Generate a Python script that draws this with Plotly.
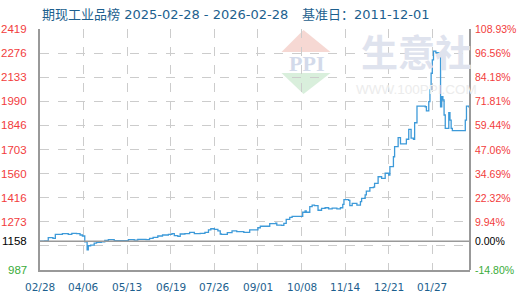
import plotly.graph_objects as go

# ---- data ----
dates = ["2025-02-28","2025-03-04","2025-03-07","2025-03-11","2025-03-13","2025-03-19","2025-03-24","2025-03-27",
         "2025-03-31","2025-04-03","2025-04-05","2025-04-07","2025-04-09","2025-04-10","2025-04-12","2025-04-15",
         "2025-04-17","2025-04-21","2025-04-24","2025-04-27","2025-05-02","2025-05-11","2025-05-14","2025-05-19",
         "2025-05-22","2025-05-29","2025-06-01","2025-06-04","2025-06-08","2025-06-12","2025-06-17","2025-06-20",
         "2025-06-22","2025-06-25","2025-06-27","2025-07-01","2025-07-05","2025-07-09","2025-07-14","2025-07-18",
         "2025-07-21","2025-07-23","2025-07-26","2025-07-29","2025-07-31","2025-08-01","2025-08-06","2025-08-10",
         "2025-08-14","2025-08-20","2025-08-25","2025-08-30","2025-09-01","2025-09-03","2025-09-10","2025-09-11",
         "2025-09-16","2025-09-17","2025-09-21","2025-09-23","2025-09-25","2025-09-28","2025-09-30","2025-10-07",
         "2025-10-09","2025-10-11","2025-10-12","2025-10-15","2025-10-17","2025-10-19","2025-10-22","2025-10-25",
         "2025-10-28","2025-10-31","2025-11-03","2025-11-07","2025-11-10","2025-11-12","2025-11-13","2025-11-17",
         "2025-11-18","2025-11-20","2025-11-24","2025-11-27","2025-11-28","2025-12-01","2025-12-02","2025-12-05",
         "2025-12-08","2025-12-09","2025-12-12","2025-12-15","2025-12-18","2025-12-21","2025-12-22","2025-12-25",
         "2025-12-26","2025-12-29","2025-12-31","2026-01-04","2026-01-05","2026-01-07","2026-01-09","2026-01-11",
         "2026-01-12","2026-01-14","2026-01-21","2026-01-22","2026-01-24","2026-01-25","2026-01-26","2026-01-27",
         "2026-01-28","2026-01-30","2026-02-02","2026-02-03","2026-02-04","2026-02-05","2026-02-06","2026-02-07",
         "2026-02-08","2026-02-10","2026-02-11","2026-02-12","2026-02-13","2026-02-22","2026-02-24","2026-02-25",
         "2026-02-27","2026-02-28"]
values = [1158,1160,1179,1175,1199,1203,1199,1205,
          1203,1195,1189,1155,1106,1131,1135,1147,
          1151,1155,1163,1167,1161,1161,1167,1165,
          1169,1167,1175,1181,1189,1195,1199,1203,
          1191,1187,1201,1203,1211,1203,1205,1211,
          1225,1232,1228,1219,1201,1199,1209,1219,
          1215,1211,1225,1225,1238,1247,1247,1262,
          1266,1254,1252,1264,1288,1300,1306,1306,
          1330,1338,1330,1363,1373,1369,1342,1353,
          1357,1350,1355,1350,1357,1377,1405,1401,
          1369,1383,1373,1393,1413,1433,1456,1476,
          1480,1502,1541,1532,1562,1551,1601,1660,
          1720,1773,1736,1736,1764,1823,1770,1764,
          1862,1961,1957,1933,1987,2057,2156,2235,
          2288,2278,2278,1957,2017,1997,1908,1829,
          1829,1922,1878,1829,1815,1815,1878,1961,
          1957,1953]

base_value = 1158
y_min, y_max = 987, 2419
y_grid = [987, 1130.2, 1273.4, 1416.6, 1559.8, 1703, 1846.2, 1989.4, 2132.6, 2275.8, 2419]
left_label_vals = [2419, 2276, 2133, 1990, 1846, 1703, 1560, 1416, 1273, 1158, 987]
right_labels = ["108.93%", "96.56%", "84.18%", "71.81%", "59.44%", "47.06%", "34.69%",
                "22.32%", "9.94%", "0.00%", "-14.80%"]
x_tick_dates = ["2025-02-28","2025-04-06","2025-05-13","2025-06-19","2025-07-26",
                "2025-09-01","2025-10-08","2025-11-14","2025-12-21","2026-01-27"]
x_tick_text = ["02/28","04/06","05/13","06/19","07/26","09/01","10/08","11/14","12/21","01/27"]
x_range = ["2025-02-28", "2026-02-28"]
title_left = "期现工业品榜 2025-02-28 - 2026-02-28"
title_right = "基准日：2011-12-01"

# ---- styles ----
BLUE_TXT = "#1d5f8e"
RED = "#f23c3c"
GREEN = "#3aac3a"
LINE = "#3d9ad9"
GRID = "#cccccc"
AXIS = "#999999"
FONT = "DejaVu Sans, Noto Sans CJK SC, sans-serif"

fig = go.Figure()
fig.add_trace(go.Scatter(x=dates, y=values, mode="lines", line=dict(color=LINE, width=1.3, shape="hv"),
                         hoverinfo="x+y", showlegend=False))

fig.update_layout(
    width=520, height=300, autosize=False,
    margin=dict(l=40, r=50, t=29, b=30),
    paper_bgcolor="white", plot_bgcolor="white",
    font=dict(family=FONT),
    xaxis=dict(type="date", range=x_range, tickvals=x_tick_dates, showticklabels=False,
               showgrid=True, gridcolor=GRID, griddash="dash", gridwidth=1,
               showline=True, linecolor=AXIS, linewidth=2, zeroline=False, fixedrange=True),
    yaxis=dict(range=[y_min, y_max], tickvals=y_grid, showticklabels=False,
               showgrid=True, gridcolor=GRID, griddash="dash", gridwidth=1,
               showline=True, linecolor=AXIS, linewidth=2, mirror=False, zeroline=False, fixedrange=True),
)

def px(xp):
    return (xp - 40) / 430
def py(yp):
    return (270 - yp) / 241

# right border and baseline
fig.add_shape(type="line", xref="paper", yref="paper", x0=1, x1=1, y0=0, y1=1,
              line=dict(color=AXIS, width=2))
fig.add_shape(type="line", xref="paper", yref="y", x0=0, x1=1, y0=base_value, y1=base_value,
              line=dict(color=AXIS, width=1.5))

# x tick labels
for d, t in zip(x_tick_dates, x_tick_text):
    fig.add_annotation(x=d, xref="x", y=py(287), yref="paper", text=t, showarrow=False,
                       xanchor="center", yanchor="middle",
                       font=dict(family="DejaVu Sans", size=10.5, color=BLUE_TXT))

# left / right labels
n = len(left_label_vals)
for i, (v, rt) in enumerate(zip(left_label_vals, right_labels)):
    if i == n - 2:
        col = "#000000"
    elif i == n - 1:
        col = GREEN
    else:
        col = RED
    fig.add_annotation(x=0, xref="paper", y=v, yref="y", text=str(v), showarrow=False,
                       xanchor="right", yanchor="middle", xshift=-11,
                       font=dict(family="Liberation Sans", size=11.5, color=col))
    fig.add_annotation(x=1, xref="paper", y=v, yref="y", text=rt, showarrow=False,
                       xanchor="left", yanchor="middle", xshift=3,
                       font=dict(family="Liberation Sans", size=10.5, color=col))

# title
fig.add_annotation(x=0, xref="paper", y=py(15), yref="paper", text=title_left, showarrow=False,
                   xanchor="left", yanchor="middle", font=dict(family=FONT, size=13, color=BLUE_TXT))
fig.add_annotation(x=px(300), xref="paper", y=py(15), yref="paper", text=title_right,
                   showarrow=False, xanchor="left", yanchor="middle",
                   font=dict(family=FONT, size=13, color=BLUE_TXT))

# watermark (decoration)
fig.add_shape(type="path", xref="paper", yref="paper", layer="below",
              path=f"M {px(303.5)} {py(30)} L {px(330.5)} {py(52)} L {px(281.5)} {py(52)} Z",
              fillcolor="#f6d8d3", line=dict(width=0))
fig.add_shape(type="path", xref="paper", yref="paper", layer="below",
              path=f"M {px(281.5)} {py(73)} L {px(330.5)} {py(73)} L {px(303.5)} {py(94)} Z",
              fillcolor="#d9efdc", line=dict(width=0))
fig.add_annotation(x=px(306), xref="paper", y=py(63.5), yref="paper", text="<b>PPI</b>", showarrow=False,
                   font=dict(family="Liberation Serif", size=22, color="#d3daea"), xanchor="center", yanchor="middle")
fig.add_annotation(x=px(416), xref="paper", y=py(51), yref="paper", text="<b>生意社</b>", showarrow=False,
                   font=dict(family="Noto Sans CJK SC", size=37, color="#dfe3ee"), xanchor="center", yanchor="middle")
fig.add_annotation(x=px(416), xref="paper", y=py(89), yref="paper", text="WWW.100PPI.COM", showarrow=False,
                   font=dict(family="Liberation Sans", size=13.5, color="#ececec"), xanchor="center", yanchor="middle")

fig.write_html("out.html")
